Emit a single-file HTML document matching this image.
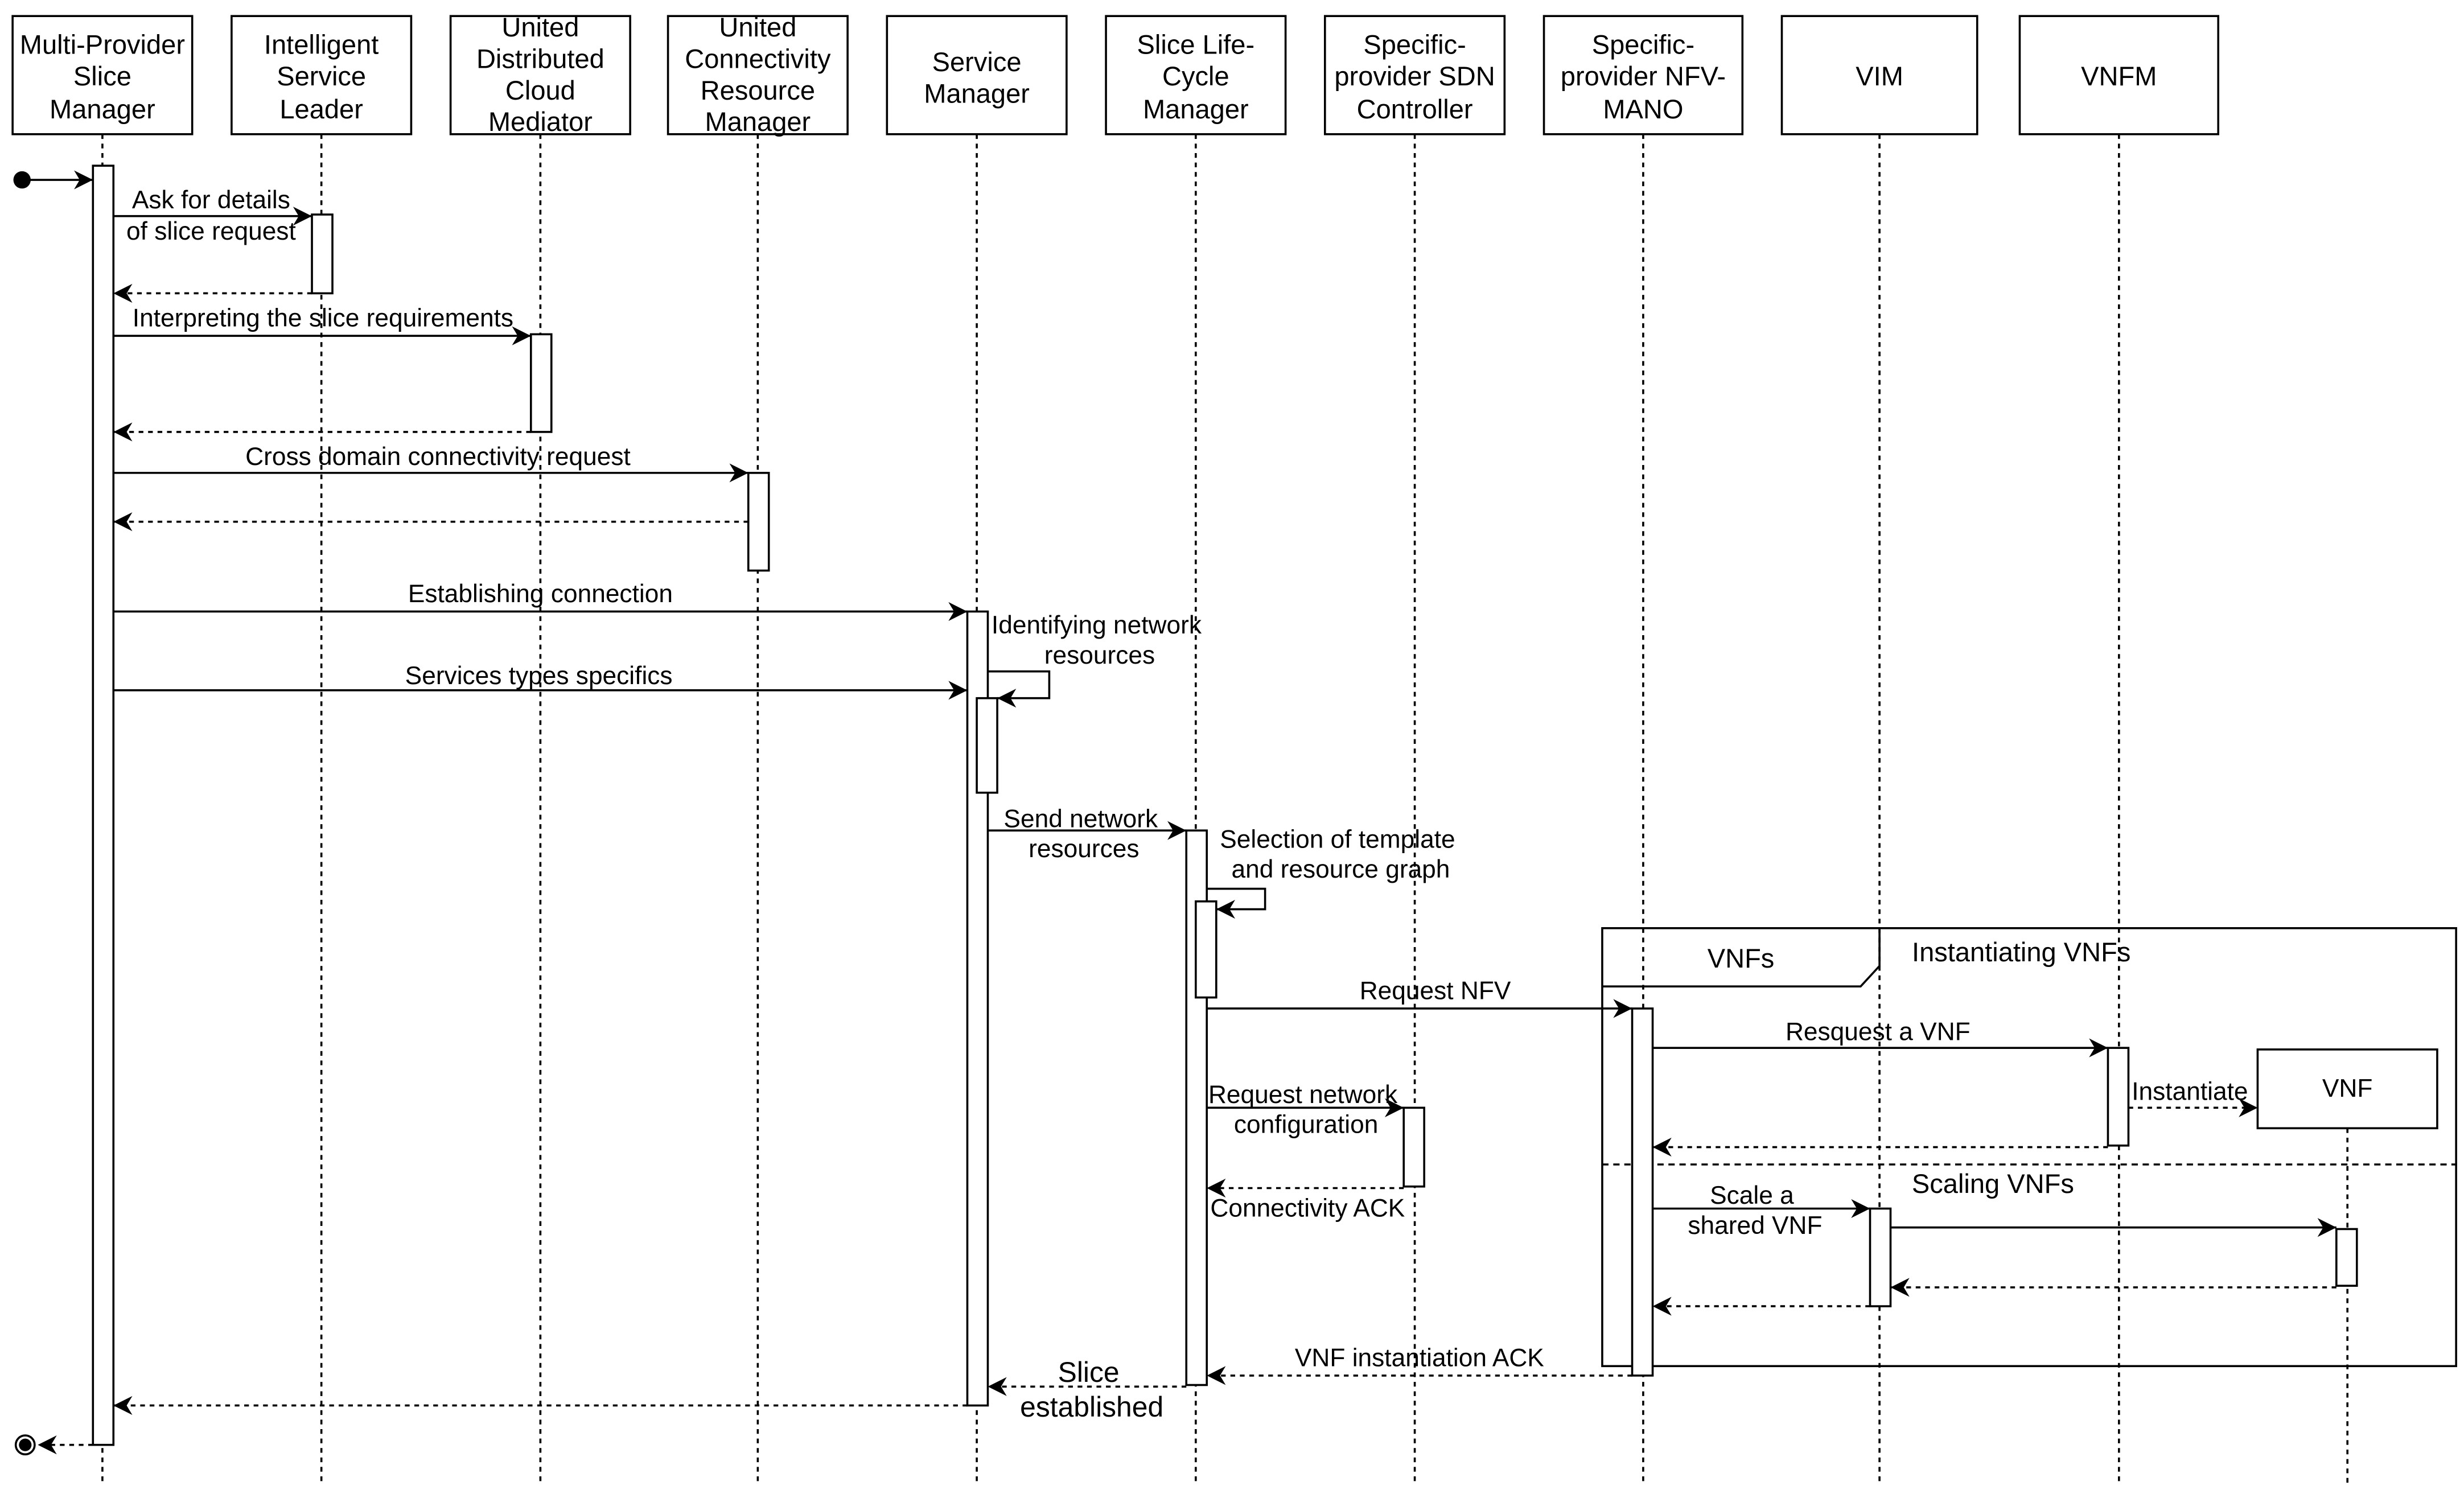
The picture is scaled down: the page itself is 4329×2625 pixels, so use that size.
<!DOCTYPE html>
<html><head><meta charset="utf-8"><style>html,body{margin:0;padding:0;background:#fff}svg{display:block}</style></head><body>
<svg width="4329" height="2625" viewBox="0 0 1564 948" xmlns="http://www.w3.org/2000/svg" font-family="Liberation Sans, sans-serif" font-size="16">
<defs>
<marker id="a" viewBox="0 0 10 10" refX="10" refY="5" markerWidth="12" markerHeight="12" markerUnits="userSpaceOnUse" orient="auto"><path d="M0,0 L10,5 L0,10 L3,5 Z" fill="#000"/></marker>
</defs>
<rect width="1564" height="948" fill="#fff"/>
<g stroke="#000" stroke-width="1.3" fill="#fff">
<rect x="8" y="10" width="114" height="75"/>
<rect x="147" y="10" width="114" height="75"/>
<rect x="286" y="10" width="114" height="75"/>
<rect x="424" y="10" width="114" height="75"/>
<rect x="563" y="10" width="114" height="75"/>
<rect x="702" y="10" width="114" height="75"/>
<rect x="841" y="10" width="114" height="75"/>
<rect x="980" y="10" width="126" height="75"/>
<rect x="1131" y="10" width="124" height="75"/>
<rect x="1282" y="10" width="126" height="75"/>
</g>
<g stroke="#000" stroke-width="1.3" stroke-dasharray="3,3">
<line x1="65" y1="85" x2="65" y2="942"/><line x1="204" y1="85" x2="204" y2="942"/><line x1="343" y1="85" x2="343" y2="942"/><line x1="481" y1="85" x2="481" y2="942"/><line x1="620" y1="85" x2="620" y2="942"/><line x1="759" y1="85" x2="759" y2="942"/><line x1="898" y1="85" x2="898" y2="942"/><line x1="1043" y1="85" x2="1043" y2="942"/><line x1="1193" y1="85" x2="1193" y2="942"/><line x1="1345" y1="85" x2="1345" y2="942"/><line x1="1490" y1="716" x2="1490" y2="942"/>
</g>
<g text-anchor="middle" font-size="17">
<text x="65" y="34">Multi-Provider</text><text x="65" y="54">Slice</text><text x="65" y="75">Manager</text>
<text x="204" y="34">Intelligent</text><text x="204" y="54">Service</text><text x="204" y="75">Leader</text>
<text x="343" y="23">United</text><text x="343" y="43">Distributed</text><text x="343" y="63">Cloud</text><text x="343" y="83">Mediator</text>
<text x="481" y="23">United</text><text x="481" y="43">Connectivity</text><text x="481" y="63">Resource</text><text x="481" y="83">Manager</text>
<text x="620" y="45">Service</text><text x="620" y="65">Manager</text>
<text x="759" y="34">Slice Life-</text><text x="759" y="54">Cycle</text><text x="759" y="75">Manager</text>
<text x="898" y="34">Specific-</text><text x="898" y="54">provider SDN</text><text x="898" y="75">Controller</text>
<text x="1043" y="34">Specific-</text><text x="1043" y="54">provider NFV-</text><text x="1043" y="75">MANO</text>
<text x="1193" y="54">VIM</text><text x="1345" y="54">VNFM</text>
</g>
<g stroke="#000" stroke-width="1.3" fill="none">
<rect x="1017" y="589" width="542" height="278"/>
<path d="M1017,626 L1181,626 L1193,613 L1193,589"/>
<line x1="1017" y1="739" x2="1559" y2="739" stroke-dasharray="4,3"/>
<rect x="1433" y="666" width="114" height="50" fill="#fff"/>
</g>
<text x="1490" y="696" text-anchor="middle">VNF</text>
<text x="1105" y="614" text-anchor="middle" font-size="17">VNFs</text>
<text x="1283" y="610" text-anchor="middle" font-size="17">Instantiating VNFs</text>
<text x="1265" y="757" text-anchor="middle" font-size="17">Scaling VNFs</text>
<g stroke="#000" stroke-width="1.3" fill="#fff">
<rect x="59" y="105" width="13" height="812"/>
<rect x="198" y="136" width="13" height="50"/>
<rect x="337" y="212" width="13" height="62"/>
<rect x="475" y="300" width="13" height="62"/>
<rect x="614" y="388" width="13" height="504"/>
<rect x="620" y="443" width="13" height="60"/>
<rect x="753" y="527" width="13" height="352"/>
<rect x="759" y="572" width="13" height="61"/>
<rect x="891" y="703" width="13" height="50"/>
<rect x="1036" y="640" width="13" height="233"/>
<rect x="1338" y="665" width="13" height="62"/>
<rect x="1187" y="767" width="13" height="62"/>
<rect x="1483" y="780" width="13" height="36"/>
</g>
<g stroke="#000" stroke-width="1.3" fill="none" marker-end="url(#a)">
<line x1="18" y1="114" x2="59" y2="114"/>
<line x1="72" y1="137" x2="198" y2="137"/>
<line x1="72" y1="213" x2="337" y2="213"/>
<line x1="72" y1="300" x2="475" y2="300"/>
<line x1="72" y1="388" x2="614" y2="388"/>
<line x1="72" y1="438" x2="614" y2="438"/>
<path d="M627,426 L666,426 L666,443 L633,443"/>
<line x1="627" y1="527" x2="753" y2="527"/>
<path d="M766,564 L803,564 L803,577 L772,577"/>
<line x1="766" y1="640" x2="1036" y2="640"/>
<line x1="766" y1="703" x2="891" y2="703"/>
<line x1="1049" y1="665" x2="1338" y2="665"/>
<line x1="1049" y1="767" x2="1187" y2="767"/>
<line x1="1200" y1="779" x2="1483" y2="779"/>
</g>
<g stroke="#000" stroke-width="1.3" fill="none" stroke-dasharray="3,3" marker-end="url(#a)">
<line x1="198" y1="186" x2="72" y2="186"/>
<line x1="337" y1="274" x2="72" y2="274"/>
<line x1="475" y1="331" x2="72" y2="331"/>
<line x1="891" y1="754" x2="766" y2="754"/>
<line x1="1351" y1="703" x2="1433" y2="703"/>
<line x1="1338" y1="728" x2="1049" y2="728"/>
<line x1="1483" y1="817" x2="1200" y2="817"/>
<line x1="1187" y1="829" x2="1049" y2="829"/>
<line x1="1036" y1="873" x2="766" y2="873"/>
<line x1="753" y1="880" x2="627" y2="880"/>
<line x1="614" y1="892" x2="72" y2="892"/>
<line x1="59" y1="917" x2="24" y2="917"/>
</g>
<circle cx="14" cy="114" r="5.5" fill="#000"/>
<circle cx="16" cy="917" r="6" fill="#fff" stroke="#000" stroke-width="1.3"/>
<circle cx="16" cy="917" r="4" fill="#000"/>
<g text-anchor="middle">
<text x="134" y="132">Ask for details</text><text x="134" y="152">of slice request</text>
<text x="205" y="207">Interpreting the slice requirements</text>
<text x="278" y="295">Cross domain connectivity request</text>
<text x="343" y="382">Establishing connection</text>
<text x="342" y="434">Services types specifics</text>
<text x="696" y="402">Identifying network</text><text x="698" y="421">resources</text>
<text x="686" y="525">Send network</text><text x="688" y="544">resources</text>
<text x="849" y="538">Selection of template</text><text x="851" y="557">and resource graph</text>
<text x="911" y="634">Request NFV</text>
<text x="827" y="700">Request network</text><text x="829" y="719">configuration</text>
<text x="830" y="772">Connectivity ACK</text>
<text x="1192" y="660">Resquest a VNF</text>
<text x="1390" y="698">Instantiate</text>
<text x="1112" y="764">Scale a</text><text x="1114" y="783">shared VNF</text>
<text x="901" y="867">VNF instantiation ACK</text>
<text x="691" y="877" font-size="18">Slice</text><text x="693" y="899" font-size="18">established</text>
</g>
</svg>
</body></html>
